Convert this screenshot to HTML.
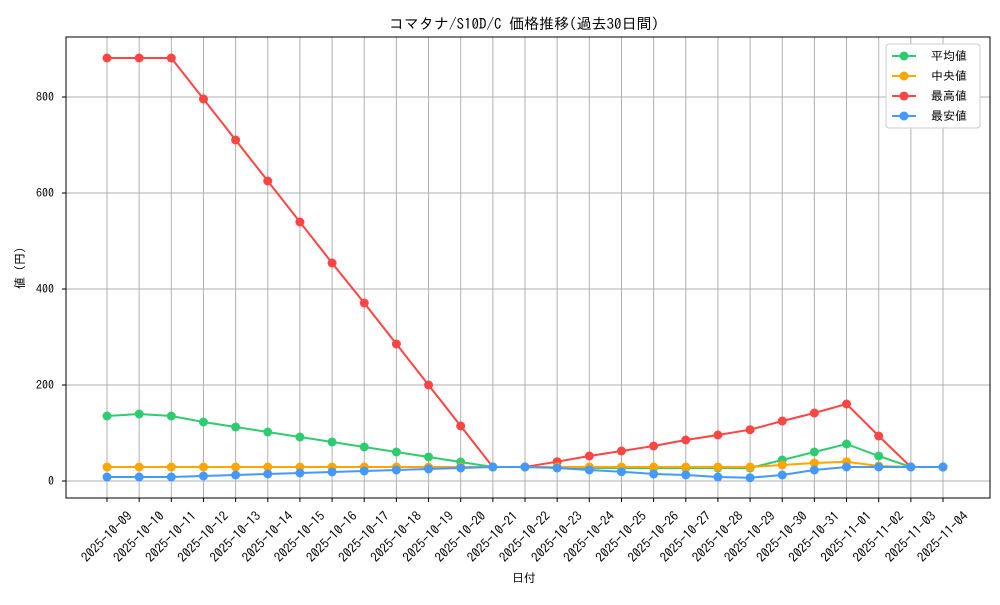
<!DOCTYPE html><html><head><meta charset="utf-8"><style>body{margin:0;background:#fff}svg{font-family:"IPAGothic","Noto Sans CJK JP",monospace}</style></head><body>
<svg width="1000" height="600" xmlns="http://www.w3.org/2000/svg">
<rect width="1000" height="600" fill="#fff"/>
<g id="g"></g>
<rect x="66" y="37" width="924" height="461" fill="none" stroke="#000" stroke-width="1"/>
<text x="524" y="29" font-size="15" text-anchor="middle">コマタナ/S10D/C 価格推移(過去30日間)</text>
<text x="524" y="582" font-size="12" text-anchor="middle">日付</text>
<text transform="translate(24,268) rotate(-90)" font-size="12" text-anchor="middle">値 (円)</text>
<g font-size="12" text-anchor="end">
<text x="54" y="485">0</text><text x="54" y="389">200</text><text x="54" y="293">400</text><text x="54" y="197">600</text><text x="54" y="101">800</text>
</g>
<g stroke="#000"><line x1="62" x2="66" y1="481" y2="481"/><line x1="62" x2="66" y1="385" y2="385"/><line x1="62" x2="66" y1="289" y2="289"/><line x1="62" x2="66" y1="193" y2="193"/><line x1="62" x2="66" y1="97" y2="97"/></g>
<g id="lg" transform="translate(886,44)">
<rect x="0" y="0" width="94" height="84" rx="3" fill="#fff" stroke="#ccc"/>
<line x1="6" x2="30" y1="12" y2="12" stroke="#2ecc71" stroke-width="2"/><circle cx="18" cy="12" r="4.5" fill="#2ecc71"/><text x="45" y="16" font-size="12">平均値</text>
<line x1="6" x2="30" y1="32" y2="32" stroke="#ffa500" stroke-width="2"/><circle cx="18" cy="32" r="4.5" fill="#ffa500"/><text x="45" y="36" font-size="12">中央値</text>
<line x1="6" x2="30" y1="52" y2="52" stroke="#ff4444" stroke-width="2"/><circle cx="18" cy="52" r="4.5" fill="#ff4444"/><text x="45" y="56" font-size="12">最高値</text>
<line x1="6" x2="30" y1="72" y2="72" stroke="#4499ff" stroke-width="2"/><circle cx="18" cy="72" r="4.5" fill="#4499ff"/><text x="45" y="76" font-size="12">最安値</text>
</g>
</svg>
<script>
const ns="http://www.w3.org/2000/svg",g=document.getElementById('g');
function el(t,a,p){const e=document.createElementNS(ns,t);for(const k in a)e.setAttribute(k,a[k]);(p||g).appendChild(e);return e;}
const X=i=>107+i*32.154;
for(const y of [481,385,289,193,97])el('line',{x1:66,x2:990,y1:y,y2:y,stroke:'#b0b0b0','stroke-width':1});
const d=new Date(Date.UTC(2025,9,9));
for(let i=0;i<27;i++){const x=X(i);el('line',{x1:x,x2:x,y1:37,y2:498,stroke:'#b0b0b0','stroke-width':1});el('line',{x1:x,x2:x,y1:498,y2:502,stroke:'#000'});
const dd=new Date(d.getTime()+i*864e5);const s=dd.toISOString().slice(0,10);
const t=el('text',{x:x,y:541,'font-size':13,'text-anchor':'middle',transform:`rotate(-45 ${x} 537)`});t.textContent=s;}
const S={
'#ff4444':[58,58,58,99,140,181,222,263,303,344,385,426,467,467,461.7,456,451,446,440,435,429.7,421,413,404,436,467,467],
'#2ecc71':[416,414,416,422,427,432,437,442,447,452,457,462,467,467,467.5,468,468,468,468,468,468,460,452,444,456,467,467],
'#ffa500':[467,467,467,467,467,467,467,467,467,467,467,467,467,467,467,467,467,467,467,467,467,465,463,461.7,466,467,467],
'#4499ff':[477,477,477,476,475,474,473,472,471,470,469,468,467,467,468,470,471.7,474,475,477,477.7,475,470,467,467,467,467]};
for(const c in S){const v=S[c];el('polyline',{points:v.map((y,i)=>X(i)+','+y).join(' '),fill:'none',stroke:c,'stroke-width':2});
v.forEach((y,i)=>el('circle',{cx:X(i),cy:y,r:4.5,fill:c}));}
</script>
</body></html>
